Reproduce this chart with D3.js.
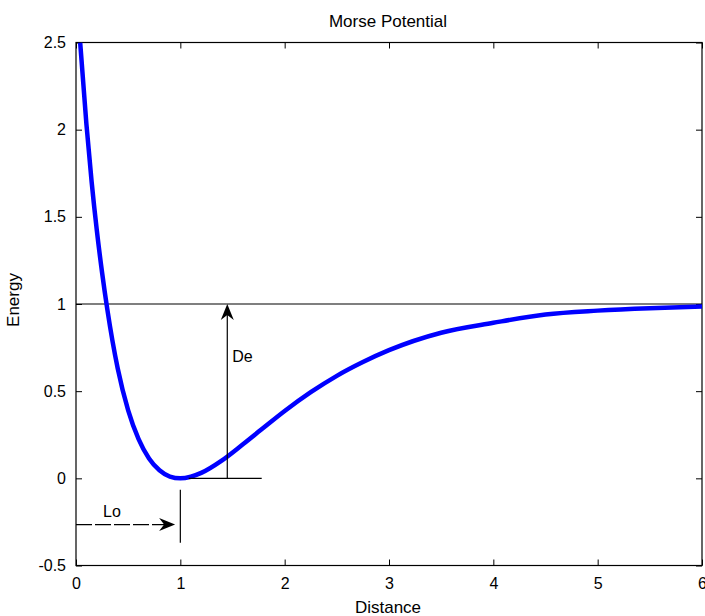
<!DOCTYPE html>
<html>
<head>
<meta charset="utf-8">
<script src="https://cdn.jsdelivr.net/npm/d3@7"></script>
<style>
  html, body { margin: 0; padding: 0; background: #fff; }
  svg { display: block; }
  text { font-family: Arial, "Liberation Sans", sans-serif; fill: #000; }
</style>
</head>
<body>
<svg id="chart" width="705" height="616"></svg>
<script>
// ---- data ----
const distance = [0.04, 0.1, 0.15, 0.2, 0.25, 0.3, 0.4, 0.5, 0.6, 0.7, 0.8, 0.9, 1.0,
                  1.1, 1.2, 1.4, 1.6, 1.8, 2.0, 2.25, 2.5, 2.75, 3.0, 3.5, 4.0, 4.5, 5.0, 5.5, 6.0];
const energy   = [2.50, 2.03, 1.70, 1.42, 1.18, 0.97, 0.63, 0.39, 0.225, 0.114, 0.046, 0.010, 0.0,
                  0.009, 0.031, 0.103, 0.195, 0.291, 0.386, 0.494, 0.588, 0.667, 0.735, 0.835, 0.892, 0.940, 0.962, 0.976, 0.985];
const xTicks = [0, 1, 2, 3, 4, 5, 6];
const yTicks = [-0.5, 0, 0.5, 1, 1.5, 2, 2.5];
const xTickLabels = ["0", "1", "2", "3", "4", "5", "6"];
const yTickLabels = ["-0.5", "0", "0.5", "1", "1.5", "2", "2.5"];
const titleText = "Morse Potential";
const xLabel = "Distance";
const yLabel = "Energy";
// annotation geometry in data units
const dissociationLevel = 1;          // horizontal line at De
const deArrow = { x: 1.45, y0: 0, y1: 1, label: "De" };
const zeroSegment = { x0: 1.08, x1: 1.78, y: 0 };
const loMarker = { x: 1, y0: -0.065, y1: -0.37 };
const loArrow = { x0: 0, x1: 0.95, y: -0.265, label: "Lo" };

// ---- layout ----
const svg = d3.select("#chart");
const x = d3.scaleLinear().domain([0, 6]).range([76, 702]);
const y = d3.scaleLinear().domain([-0.5, 2.5]).range([565.5, 42.5]);
const [L, R] = x.range();
const [B, T] = y.range();
const tickLen = 6;

svg.append("defs").append("clipPath").attr("id", "plotclip")
  .append("rect").attr("x", L).attr("y", T).attr("width", R - L).attr("height", B - T);

// axes with inward ticks (box style)
const axisStyle = g => {
  g.select(".domain").remove();
  g.selectAll(".tick line").attr("stroke", "#000").attr("stroke-width", 1);
  g.selectAll(".tick text").style("font-size", "16px").style("font-family", "Arial, 'Liberation Sans', sans-serif");
};
svg.append("g").attr("transform", `translate(0,${B})`)
  .call(d3.axisBottom(x).tickValues(xTicks).tickFormat((d, i) => xTickLabels[i])
        .tickSizeInner(-tickLen).tickSizeOuter(0).tickPadding(12))
  .call(axisStyle);
svg.append("g").attr("transform", `translate(0,${T})`)
  .call(d3.axisTop(x).tickValues(xTicks).tickFormat("").tickSizeInner(-tickLen).tickSizeOuter(0))
  .call(axisStyle);
svg.append("g").attr("transform", `translate(${L},0)`)
  .call(d3.axisLeft(y).tickValues(yTicks).tickFormat((d, i) => yTickLabels[i])
        .tickSizeInner(-tickLen).tickSizeOuter(0).tickPadding(10))
  .call(axisStyle);
svg.append("g").attr("transform", `translate(${R},0)`)
  .call(d3.axisRight(y).tickValues(yTicks).tickFormat("").tickSizeInner(-tickLen).tickSizeOuter(0))
  .call(axisStyle);

svg.append("rect").attr("x", L).attr("y", T).attr("width", R - L).attr("height", B - T)
  .attr("fill", "none").attr("stroke", "#000").attr("stroke-width", 1.2);

// dissociation level line
svg.append("line").attr("x1", L).attr("x2", R)
  .attr("y1", y(dissociationLevel)).attr("y2", y(dissociationLevel))
  .attr("stroke", "#000").attr("stroke-width", 1.2);

// Morse curve
const pts = distance.map((d, i) => [d, energy[i]]);
svg.append("path").datum(pts)
  .attr("clip-path", "url(#plotclip)")
  .attr("fill", "none").attr("stroke", "#0000ff").attr("stroke-width", 4.5)
  .attr("stroke-linejoin", "round")
  .attr("d", d3.line().x(d => x(d[0])).y(d => y(d[1])).curve(d3.curveMonotoneX));

// arrowhead helper
function arrowHead(tx, ty, angleDeg) {
  svg.append("path")
    .attr("d", "M0,0 L-16,-6.5 L-11,0 L-16,6.5 Z")
    .attr("transform", `translate(${tx},${ty}) rotate(${angleDeg})`)
    .attr("fill", "#000");
}

// zero segment & De arrow
svg.append("line").attr("x1", x(zeroSegment.x0)).attr("x2", x(zeroSegment.x1))
  .attr("y1", y(zeroSegment.y)).attr("y2", y(zeroSegment.y))
  .attr("stroke", "#000").attr("stroke-width", 1.2);
svg.append("line").attr("x1", x(deArrow.x)).attr("x2", x(deArrow.x))
  .attr("y1", y(deArrow.y0)).attr("y2", y(deArrow.y1) + 6)
  .attr("stroke", "#000").attr("stroke-width", 1.2);
arrowHead(x(deArrow.x), y(deArrow.y1), -90);
svg.append("text").attr("x", x(deArrow.x) + 5).attr("y", 362)
  .style("font-size", "16px").text(deArrow.label);

// Lo marker and arrow
svg.append("line").attr("x1", x(loMarker.x)).attr("x2", x(loMarker.x))
  .attr("y1", y(loMarker.y0)).attr("y2", y(loMarker.y1))
  .attr("stroke", "#000").attr("stroke-width", 1.2);
svg.append("line").attr("x1", x(loArrow.x0)).attr("x2", x(loArrow.x1) - 6)
  .attr("y1", y(loArrow.y)).attr("y2", y(loArrow.y))
  .attr("stroke", "#000").attr("stroke-width", 1.2).attr("stroke-dasharray", "16,3");
arrowHead(x(loArrow.x1), y(loArrow.y), 0);
svg.append("text").attr("x", 103).attr("y", 517)
  .style("font-size", "16px").text(loArrow.label);

// title and axis labels
svg.append("text").attr("x", 388).attr("y", 27).attr("text-anchor", "middle")
  .style("font-size", "17px").text(titleText);
svg.append("text").attr("x", 388).attr("y", 613).attr("text-anchor", "middle")
  .style("font-size", "17px").text(xLabel);
svg.append("text").attr("transform", "translate(19,300) rotate(-90)").attr("text-anchor", "middle")
  .style("font-size", "17px").text(yLabel);
</script>
</body>
</html>
